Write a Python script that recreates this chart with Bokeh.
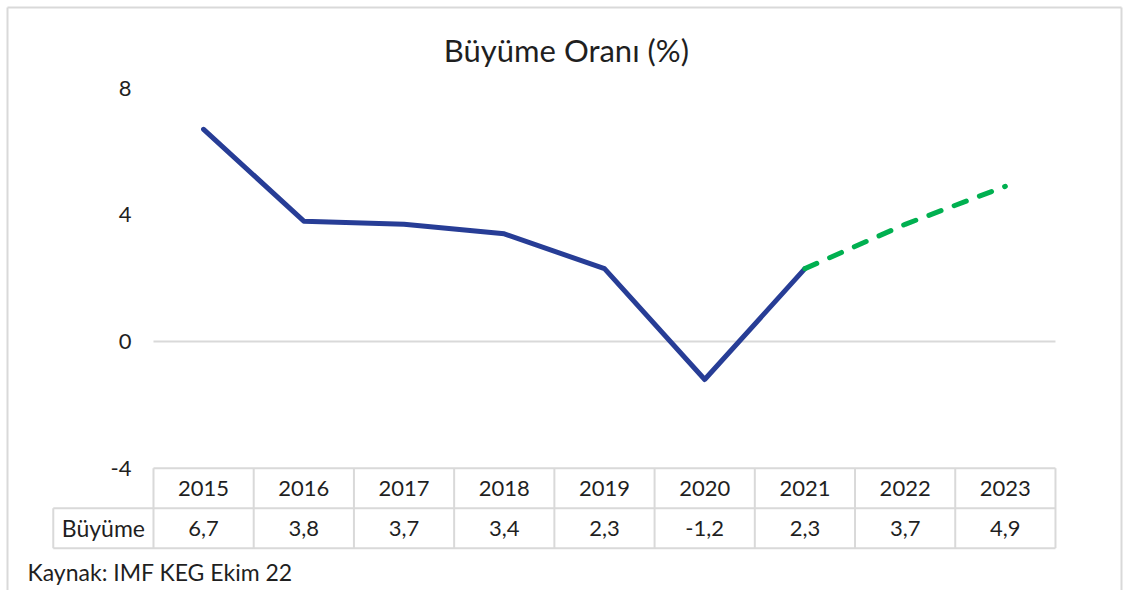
import numpy as np
from bokeh.plotting import figure
from bokeh.models import Range1d
from bokeh.core.properties import value
from bokeh.embed import file_html
from bokeh.resources import INLINE

# ---------------- data ----------------
title_text = "Büyüme Oranı (%)"
source_text = "Kaynak: IMF KEG Ekim 22"
row_label = "Büyüme"
years = ["2015", "2016", "2017", "2018", "2019", "2020", "2021", "2022", "2023"]
growth = [6.7, 3.8, 3.7, 3.4, 2.3, -1.2, 2.3, 3.7, 4.9]
last_actual = "2021"
y_ticks = [8, 4, 0, -4]

# ---------------- layout ----------------
W, H = 1142, 590
FONT = value("Lato")
TXT = "#1f1f1f"
GRID = "#d9d9d9"
BLUE = "#273D96"
GREEN = "#00B050"

n = len(years)
xi = np.arange(n)
ymin_axis = min(y_ticks)
row_h = 1.263  # table row height in y units
row_mid = ymin_axis - row_h
row_bot = ymin_axis - 2 * row_h

p = figure(width=W, height=H, output_backend="svg", toolbar_location=None,
           x_range=Range1d(-2.0265, 9.3684), y_range=Range1d(-7.861, 10.766),
           x_axis_location=None, y_axis_location=None,
           min_border=0, min_border_left=0, min_border_right=0,
           min_border_top=0, min_border_bottom=0)
p.grid.visible = False
p.outline_line_color = None
p.background_fill_color = "white"
p.border_fill_color = "white"

yr0 = p.y_range.start

# outer chart border (left, top, right)
bx0, bx1, by1 = -1.9567, 9.159, 10.545
p.segment(x0=[bx0, bx0, bx1], y0=[yr0, by1, by1], x1=[bx0, bx1, bx1], y1=[by1, by1, yr0],
          line_color=GRID, line_width=2)

# zero line
p.segment(x0=[-0.5], y0=[0], x1=[n - 0.5], y1=[0], line_color=GRID, line_width=2)

# y tick labels
p.text(x=[-0.72] * len(y_ticks), y=y_ticks, text=[str(t) for t in y_ticks],
       text_font=FONT, text_font_size=value("22px"), text_color=TXT,
       text_align="right", text_baseline="middle")

# lines
k = years.index(last_actual)
p.line(x=xi[:k + 1], y=growth[:k + 1], line_color=BLUE, line_width=5,
       line_join="round", line_cap="round")
p.line(x=xi[k:], y=growth[k:], line_color=GREEN, line_width=5,
       line_dash="13 14", line_cap="round", line_join="round")

# data table grid
hx0 = [-0.5, -1.5, -1.5]
hx1 = [n - 0.5] * 3
hy = [ymin_axis, row_mid, row_bot]
p.segment(x0=hx0, y0=hy, x1=hx1, y1=hy, line_color=GRID, line_width=2)
vx = list(np.arange(-0.5, n, 1.0))
p.segment(x0=vx, y0=[ymin_axis] * len(vx), x1=vx, y1=[row_bot] * len(vx),
          line_color=GRID, line_width=2)
p.segment(x0=[-1.5], y0=[row_mid], x1=[-1.5], y1=[row_bot], line_color=GRID, line_width=2)

# table texts
p.text(x=xi, y=[ymin_axis - row_h / 2] * n, text=years,
       text_font=FONT, text_font_size=value("22px"), text_color=TXT,
       text_align="center", text_baseline="middle")
labels = [f"{v:.1f}".replace(".", ",") for v in growth]
p.text(x=xi, y=[row_mid - row_h / 2] * n, text=labels,
       text_font=FONT, text_font_size=value("22px"), text_color=TXT,
       text_align="center", text_baseline="middle")
p.text(x=[-1.0], y=[row_mid - row_h / 2], text=[row_label],
       text_font=FONT, text_font_size=value("23px"), text_color=TXT,
       text_align="center", text_baseline="middle")

# title
p.text(x=[(n - 1) / 2 - 0.38], y=[9.19], text=[title_text],
       text_font=FONT, text_font_size=value("31px"), text_color=TXT,
       text_align="center", text_baseline="middle")

# source
p.text(x=[-1.757], y=[-7.29], text=[source_text],
       text_font=FONT, text_font_size=value("23px"), text_color=TXT,
       text_align="left", text_baseline="middle")

open("out.html", "w").write(file_html(p, INLINE))
